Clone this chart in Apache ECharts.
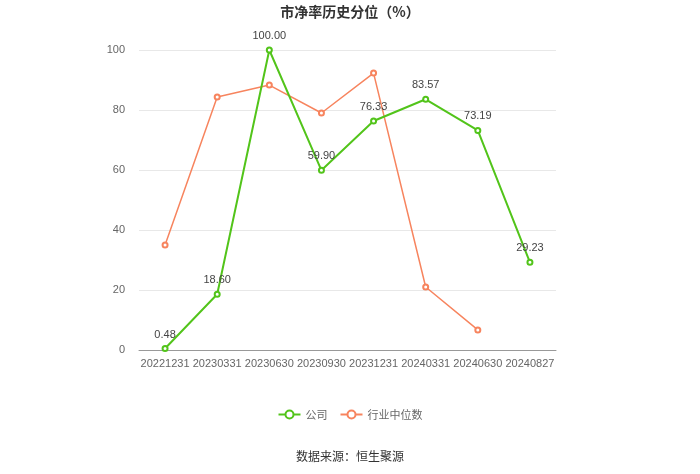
<!DOCTYPE html>
<html><head><meta charset="utf-8">
<script src="https://cdn.jsdelivr.net/npm/echarts@6/dist/echarts.min.js"></script>
<style>html,body{margin:0;padding:0;background:#fff}#c{width:700px;height:474px}</style>
</head><body><div id="c"></div>
<script>
var categories = ['20221231','20230331','20230630','20230930','20231231','20240331','20240630','20240827'];
var company = [0.48, 18.60, 100.00, 59.90, 76.33, 83.57, 73.19, 29.23];
var industry = [35.0, 84.3, 88.3, 79.0, 92.3, 21.0, 6.7, null];
var yTicks = {min: 0, max: 100, interval: 20};

var chart = echarts.init(document.getElementById('c'));
chart.setOption({
  animation: false,
  title: {text: '市净率历史分位（%）', left: 'center', top: 0,
    textStyle: {fontSize: 14, fontWeight: 'bold', color: '#333', fontFamily: 'Noto Sans CJK SC'}},
  grid: {left: 139, right: 144, top: 50, bottom: 124},
  legend: {bottom: 49, itemGap: 12, itemWidth: 22, itemHeight: 10,
    textStyle: {fontSize: 11, color: '#666', fontFamily: 'Noto Sans CJK SC'},
    data: ['公司', '行业中位数']},
  graphic: [{type: 'text', left: 'center', top: 450,
    style: {text: '数据来源：恒生聚源', fontSize: 12, fill: '#333', fontFamily: 'Noto Sans CJK SC'}}],
  xAxis: {type: 'category', data: categories, boundaryGap: true,
    axisLine: {lineStyle: {color: '#999'}},
    axisTick: {alignWithLabel: true, lineStyle: {color: '#999'}},
    axisLabel: {color: '#666', fontSize: 11, margin: 8, interval: 0}},
  yAxis: {type: 'value', min: yTicks.min, max: yTicks.max, interval: yTicks.interval,
    axisLine: {show: false}, axisTick: {show: false},
    axisLabel: {color: '#666', fontSize: 11, margin: 14},
    splitLine: {lineStyle: {color: '#e8e8e8'}}},
  series: [
    {name: '公司', type: 'line', data: company, symbol: 'emptyCircle', symbolSize: 5,
      itemStyle: {color: '#52c41a'}, lineStyle: {width: 2, color: '#52c41a'},
      label: {show: true, position: 'top', color: '#444', fontSize: 11,
        formatter: function(p){return p.value.toFixed(2);}}, z: 3},
    {name: '行业中位数', type: 'line', data: industry, symbol: 'emptyCircle', symbolSize: 5,
      itemStyle: {color: '#f7845e'}, lineStyle: {width: 1.5, color: '#f7845e'}, z: 2}
  ]
});
</script></body></html>
